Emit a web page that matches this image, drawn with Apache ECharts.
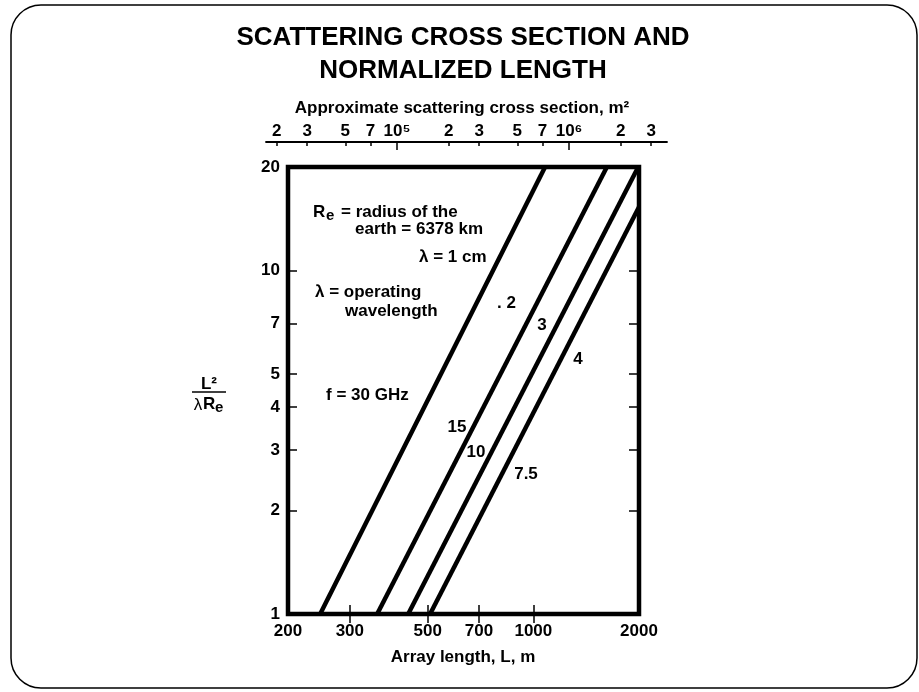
<!DOCTYPE html>
<html>
<head>
<meta charset="utf-8">
<title>Scattering cross section and normalized length</title>
<script src="https://cdn.jsdelivr.net/npm/echarts@6.0.0/dist/echarts.min.js"></script>
<style>
  html, body { margin: 0; padding: 0; background: #fff; }
  #chart { width: 919px; height: 692px; }
</style>
</head>
<body>
<div id="chart"></div>
<script>
  // array length L (m) range and ticks
  const lengthRange = [200, 2000]
  const lengthTicks = [300, 500, 700, 1000]
  const lengthLabels = [200, 300, 500, 700, 1000, 2000]

  // L^2 / (lambda * Re)
  const ratioRange = [1, 20]
  const ratioTicks = [2, 3, 4, 5, 7, 10]
  const ratioLabels = [1, 2, 3, 4, 5, 7, 10, 20]

  // top axis: approximate scattering cross section, m^2
  const sigmaRange = [1.73e4, 3.71e6]
  const sigmaTicks = [2e4, 3e4, 5e4, 7e4, 1e5, 2e5, 3e5, 5e5, 7e5, 1e6, 2e6, 3e6]
  const sigmaDecades = [1e5, 1e6]

  // wavelength lines, end points
  const wavelengths = ['1 cm', '2', '3', '4']
  const lineLength = [[247, 1080], [359, 1620], [440, 1990], [508, 2000]]
  const lineRatio = [[1, 20], [1, 20], [1, 20], [1, 15.3]]

  const lg = v => Math.log10(v)
  const FONT = '"Liberation Sans", Arial, sans-serif'
  const sup = { '5': '\u2075', '6': '\u2076' }

  function sigmaLabel(v) {
    const e = Math.floor(v + 1e-9)
    const m = Math.round(Math.pow(10, v - e))
    return m === 1 ? '10' + (sup[e] || e) : String(m)
  }

  const tickStyle = { color: '#000', width: 1.5 }
  const labelStyle = { color: '#000', fontSize: 17, fontWeight: 'bold', fontFamily: FONT }

  function txt(text, x, y, opt) {
    opt = opt || {}
    return {
      type: 'text',
      x: x,
      y: y,
      style: {
        text: text,
        fill: '#000',
        font: (opt.weight || 'bold') + ' ' + (opt.size || 17) + 'px ' + FONT,
        textAlign: opt.align || 'left',
        textVerticalAlign: 'middle'
      }
    }
  }

  const chart = echarts.init(document.getElementById('chart'), null, { renderer: 'canvas' })

  chart.setOption({
    backgroundColor: '#fff',
    animation: false,
    grid: [
      {
        left: 288, top: 167, width: 351, height: 447,
        show: true, borderColor: '#000', borderWidth: 4.5,
        outerBoundsMode: 'none'
      },
      {
        left: 266, top: 142, width: 401, height: 0,
        outerBoundsMode: 'none'
      }
    ],
    xAxis: [
      {
        gridIndex: 0, type: 'value', position: 'bottom',
        min: lg(lengthRange[0]), max: lg(lengthRange[1]),
        axisLine: { show: false },
        splitLine: { show: false },
        axisTick: { inside: true, length: 9, lineStyle: tickStyle, customValues: lengthTicks.map(lg) },
        axisLabel: Object.assign({
          margin: 9,
          customValues: lengthLabels.map(lg),
          formatter: v => String(Math.round(Math.pow(10, v)))
        }, labelStyle)
      },
      {
        gridIndex: 0, type: 'value', position: 'top',
        min: lg(lengthRange[0]), max: lg(lengthRange[1]),
        axisLine: { show: false },
        splitLine: { show: false },
        axisTick: { inside: true, length: 9, lineStyle: tickStyle, customValues: lengthTicks.map(lg) },
        axisLabel: { show: false }
      },
      {
        gridIndex: 1, type: 'value', position: 'top',
        min: lg(sigmaRange[0]), max: lg(sigmaRange[1]),
        axisLine: { show: true, lineStyle: { color: '#000', width: 1.8 } },
        splitLine: { show: false },
        axisTick: { inside: true, length: 4, lineStyle: tickStyle, customValues: sigmaTicks.map(lg) },
        axisLabel: Object.assign({
          margin: 2,
          customValues: sigmaTicks.map(lg),
          formatter: sigmaLabel
        }, labelStyle)
      },
      {
        gridIndex: 1, type: 'value', position: 'bottom',
        min: lg(sigmaRange[0]), max: lg(sigmaRange[1]),
        axisLine: { show: false },
        splitLine: { show: false },
        axisTick: { inside: false, length: 8, lineStyle: tickStyle, customValues: sigmaDecades.map(lg) },
        axisLabel: { show: false }
      }
    ],
    yAxis: [
      {
        gridIndex: 0, type: 'value', position: 'left',
        min: lg(ratioRange[0]), max: lg(ratioRange[1]),
        axisLine: { show: false },
        splitLine: { show: false },
        axisTick: { inside: true, length: 9, lineStyle: tickStyle, customValues: ratioTicks.map(lg) },
        axisLabel: Object.assign({
          margin: 8,
          customValues: ratioLabels.map(lg),
          formatter: v => String(Math.round(Math.pow(10, v)))
        }, labelStyle)
      },
      {
        gridIndex: 0, type: 'value', position: 'right',
        min: lg(ratioRange[0]), max: lg(ratioRange[1]),
        axisLine: { show: false },
        splitLine: { show: false },
        axisTick: { inside: true, length: 10, lineStyle: tickStyle, customValues: ratioTicks.map(lg) },
        axisLabel: { show: false }
      },
      {
        gridIndex: 1, type: 'value', show: false, min: 0, max: 1
      }
    ],
    series: wavelengths.map((w, i) => ({
      name: w,
      type: 'line',
      xAxisIndex: 0,
      yAxisIndex: 0,
      symbol: 'none',
      silent: true,
      lineStyle: { color: '#000', width: 4.5, cap: 'butt' },
      data: lineLength[i].map((L, k) => [lg(L), lg(lineRatio[i][k])])
    })),
    graphic: [
      // rounded frame
      {
        type: 'rect',
        shape: { x: 11, y: 5, width: 906, height: 683, r: 30 },
        style: { fill: 'none', stroke: '#000', lineWidth: 1.5 }
      },
      txt('SCATTERING CROSS SECTION AND', 463, 38, { size: 26, align: 'center' }),
      txt('NORMALIZED LENGTH', 463, 71, { size: 26, align: 'center' }),
      txt('Approximate scattering cross section, m\u00b2', 462, 108, { align: 'center' }),
      txt('Array length, L, m', 463, 657, { align: 'center' }),
      // y axis name: L^2 / (lambda Re)
      txt('L\u00b2', 209, 384, { align: 'center' }),
      {
        type: 'line',
        shape: { x1: 192, y1: 392, x2: 226, y2: 392 },
        style: { stroke: '#000', lineWidth: 1.5 }
      },
      txt('\u03bb', 198, 405, { weight: 'normal', align: 'center' }),
      txt('R', 203, 404),
      txt('e', 215, 408, { size: 15 }),
      // notes
      txt('R', 313, 212),
      txt('e', 326, 216, { size: 15 }),
      txt('= radius of the', 341, 212),
      txt('earth = 6378 km', 355, 229),
      txt('\u03bb = 1 cm', 419, 257),
      txt('\u03bb = operating', 315, 292),
      txt('wavelength', 345, 311),
      txt('f = 30 GHz', 326, 395),
      txt('. 2', 497, 303),
      txt('3', 542, 325, { align: 'center' }),
      txt('4', 578, 359, { align: 'center' }),
      txt('15', 457, 427, { align: 'center' }),
      txt('10', 476, 452, { align: 'center' }),
      txt('7.5', 526, 474, { align: 'center' })
    ]
  })
</script>
</body>
</html>
